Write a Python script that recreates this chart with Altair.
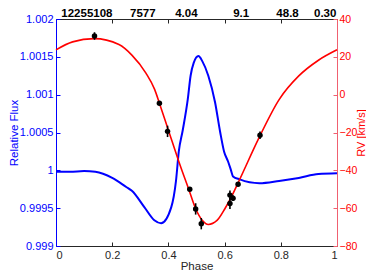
import altair as alt
import pandas as pd

# ---------------- data ----------------
flux_phase = [0.000, 0.050, 0.100, 0.140, 0.200, 0.250, 0.270, 0.315, 0.350, 0.374,
              0.410, 0.427, 0.437, 0.451, 0.469, 0.479, 0.490, 0.507, 0.521, 0.542,
              0.566, 0.584, 0.598, 0.612, 0.622, 0.630, 0.654, 0.724, 0.794, 0.864,
              0.934, 1.000]
flux_value = [0.99998, 0.99998, 0.99999, 0.99998, 0.99990, 0.99978, 0.99973, 0.99951, 0.99934, 0.99930,
              0.99951, 0.99986, 1.00025, 1.00053, 1.00094, 1.00125, 1.00142, 1.00151, 1.00144, 1.00125,
              1.00090, 1.00051, 1.00025, 1.00012, 1.00001, 0.99992, 0.99988, 0.99983, 0.99986, 0.99990,
              0.99995, 0.99996]

rv_model_phase = [0.000, 0.059, 0.136, 0.224, 0.270, 0.320, 0.351, 0.368, 0.402, 0.437,
                  0.472, 0.497, 0.521, 0.542, 0.573, 0.601, 0.626, 0.654, 0.724, 0.794,
                  0.864, 0.934, 1.000]
rv_model_value = [23.7, 27.9, 29.6, 26.5, 20.9, 11.4, 2.8, -4.5, -19.7, -35.3,
                  -49.9, -60.3, -66.5, -68.6, -66.5, -60.3, -53.5, -44.7, -22.3, -2.6,
                  9.9, 18.2, 23.7]

rv_obs_phase = [0.137, 0.368, 0.397, 0.476, 0.497, 0.517, 0.619, 0.630, 0.619, 0.648, 0.726]
rv_obs_value = [31.0, -4.5, -19.4, -50.0, -60.4, -68.2, -53.1, -54.7, -57.5, -47.4, -21.5]
rv_obs_err = [2.0, 1.0, 3.0, 1.0, 3.0, 3.0, 2.5, 1.5, 3.0, 1.0, 2.0]

top_labels = ["12255108", "7577", "4.04", "9.1", "48.8", "0.30"]
top_label_phase = [0.110, 0.309, 0.464, 0.659, 0.824, 0.958]

x_ticks = [0, 0.2, 0.4, 0.6, 0.8, 1.0]
flux_ticks = [0.999, 0.9995, 1.0, 1.0005, 1.001, 1.0015, 1.002]
rv_ticks = [-80, -60, -40, -20, 0, 20, 40]

# ---------------- styling ----------------
W, H = 281, 227
FONT = "Liberation Sans"
BLUE = "#0000ff"
RED = "#ff0000"
RED_AXIS = "#f06070"
DARK = "#262626"

flux_df = pd.DataFrame({"phase": flux_phase, "flux": flux_value})
model_df = pd.DataFrame({"phase": rv_model_phase, "rv": rv_model_value})
obs_df = pd.DataFrame({"phase": rv_obs_phase, "rv": rv_obs_value, "err": rv_obs_err})
obs_df["lo"] = obs_df["rv"] - obs_df["err"]
obs_df["hi"] = obs_df["rv"] + obs_df["err"]
top_df = pd.DataFrame({"phase": top_label_phase, "label": top_labels})

xs = alt.Scale(domain=[0, 1], nice=False, zero=False)
fs = alt.Scale(domain=[0.999, 1.002], nice=False, zero=False)
rs = alt.Scale(domain=[-80, 40], nice=False, zero=False)

# invisible flux layer carrying inward ticks (left) and the top frame with ticks
l0 = alt.Chart(flux_df).mark_line(opacity=0).encode(
    x=alt.X("phase:Q", scale=xs,
            axis=alt.Axis(orient="bottom", offset=-H, values=x_ticks, labels=False,
                          domain=True, domainColor=DARK, ticks=True, tickColor=DARK,
                          tickSize=4, title=None)),
    y=alt.Y("flux:Q", scale=fs,
            axis=alt.Axis(orient="right", offset=-W, values=flux_ticks, labels=False,
                          domain=False, ticks=True, tickColor=BLUE, tickSize=4, title=None)),
)

l1 = alt.Chart(flux_df).mark_line(color=BLUE, strokeWidth=2, interpolate="monotone").encode(
    x=alt.X("phase:Q", scale=xs,
            axis=alt.Axis(orient="bottom", values=x_ticks, format="~g", ticks=False,
                          domain=True, domainColor=DARK, labelColor=DARK, labelPadding=3,
                          title="Phase", titleColor=DARK, titlePadding=0)),
    y=alt.Y("flux:Q", scale=fs,
            axis=alt.Axis(orient="left", values=flux_ticks, format="~g", ticks=False,
                          domain=True, domainColor=BLUE, labelColor=BLUE, labelPadding=3,
                          title="Relative Flux", titleColor=BLUE, titlePadding=0)),
)

l2 = alt.Chart(model_df).mark_line(color=RED, strokeWidth=1.6, interpolate="monotone").encode(
    x=alt.X("phase:Q", scale=xs,
            axis=alt.Axis(orient="top", offset=-H, values=x_ticks, labels=False,
                          domain=False, ticks=True, tickColor=DARK, tickSize=4, title=None)),
    y=alt.Y("rv:Q", scale=rs,
            axis=alt.Axis(orient="right", values=rv_ticks, format="d", ticks=False,
                          domain=True, domainColor=RED_AXIS, labelColor=RED, labelPadding=2,
                          labelFontSize=10.5,
                          title="RV [km/s]", titleColor=RED, titleAngle=270, titleFontSize=11,
                          titleBaseline="top", titleX=18.5, titleY=H / 2)),
)

l3 = alt.Chart(obs_df).mark_rule(color="black", strokeWidth=1.6).encode(
    x=alt.X("phase:Q", scale=xs, axis=None),
    y=alt.Y("lo:Q", scale=rs,
            axis=alt.Axis(orient="left", offset=-W, values=rv_ticks, labels=False,
                          domain=False, ticks=True, tickColor=RED_AXIS, tickSize=4, title=None)),
    y2="hi:Q",
)

l4 = alt.Chart(obs_df).mark_point(filled=True, color="black", size=30, opacity=1).encode(
    x=alt.X("phase:Q", scale=xs, axis=None),
    y=alt.Y("rv:Q", scale=rs, axis=None),
)

l5 = alt.Chart(top_df).mark_text(font=FONT, fontSize=11.5, fontWeight="bold", color="black",
                                 baseline="alphabetic", align="center").encode(
    x=alt.X("phase:Q", scale=xs, axis=None),
    y=alt.value(-2.5),
    text="label:N",
)

chart = alt.layer(l0, l1, l2, l3, l4, l5).resolve_scale(
    y="independent"
).resolve_axis(
    x="independent", y="independent"
).properties(
    width=W, height=H,
    autosize="none",
    padding={"left": 48, "top": 11, "right": 29, "bottom": 27},
).configure_view(stroke=None).configure_axis(
    grid=False, labelFont=FONT, titleFont=FONT, labelFontSize=11,
    titleFontSize=11.5, titleFontWeight="normal",
)

chart.save("out.html", embed_options={"renderer": "svg", "actions": False})
